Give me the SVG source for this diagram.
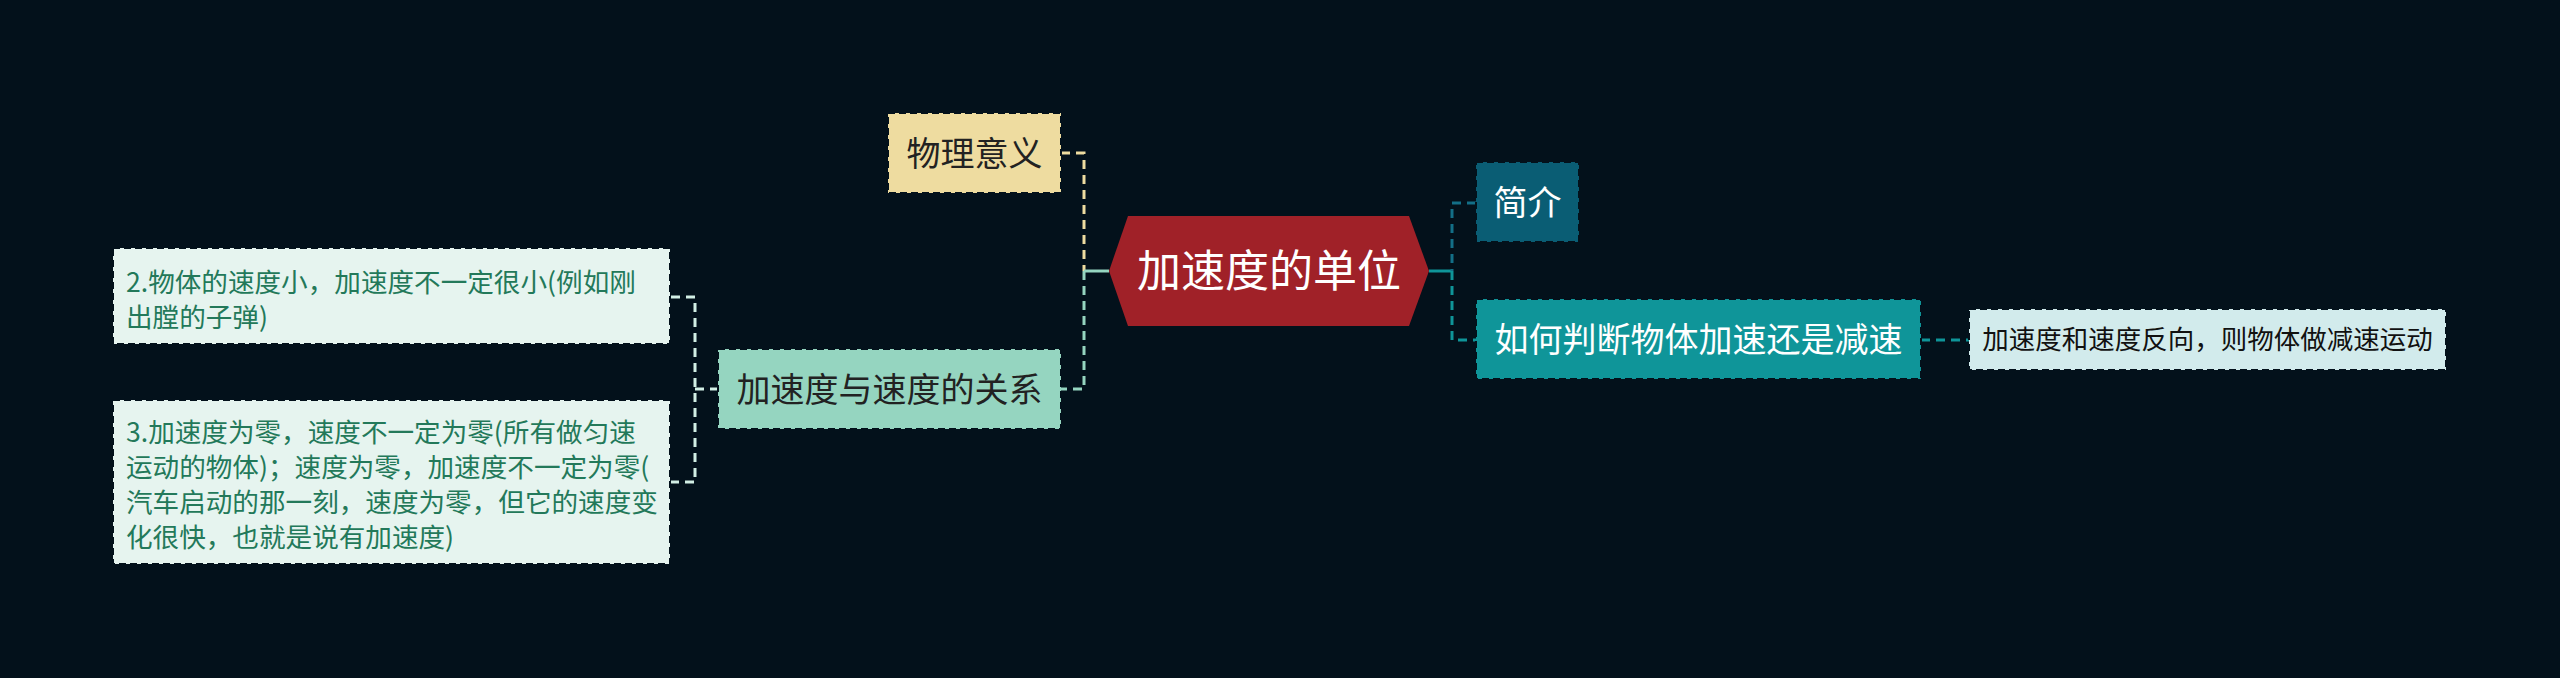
<svg xmlns="http://www.w3.org/2000/svg" width="2560" height="678" viewBox="0 0 2560 678">
<style>
text{font-family:"Noto Sans CJK SC","Noto Sans",sans-serif;}
.box{stroke:#03111b;stroke-width:2;stroke-dasharray:7 4;}
.t34{font-size:34px;text-anchor:middle;}
.leaf{font-size:26.6px;fill:#23795a;}
.con{fill:none;stroke-width:3;stroke-dasharray:9 6;}
</style>
<rect x="0" y="0" width="2560" height="678" fill="#03111b"/>
<g id="connectors">
<path class="con" d="M1061,153 H1084 V271" stroke="#eedca0"/>
<path class="con" d="M1084,271 V389 H1061" stroke="#95d5c0"/>
<path d="M1109,271 H1084" stroke="#95d5c0" stroke-width="3" fill="none"/>
<path d="M1429,271 H1452" stroke="#0f9599" stroke-width="3" fill="none"/>
<path class="con" d="M1476,203 H1452 V271" stroke="#136f87"/>
<path class="con" d="M1452,271 V340 H1476" stroke="#0f9599"/>
<path class="con" d="M1921,340 H1969" stroke="#0f9599" stroke-dasharray="10 8"/>
<path class="con" d="M671,297 H695 V482 H671 M695,389 H718" stroke="#d2efe5" stroke-width="2"/>
</g>
<g id="center">
<polygon points="1109,271 1128,216 1409,216 1429,271 1409,326 1128,326" fill="#a02128"/>
<text x="1269" y="287" font-size="44" text-anchor="middle" fill="#ffffff">加速度的单位</text>
</g>
<g id="n-wuliyiyi">
<rect class="box" x="888" y="113" width="173" height="80" fill="#eedca0"/>
<text class="t34" x="974.5" y="165.5" fill="#222222">物理意义</text>
</g>
<g id="n-guanxi">
<rect class="box" x="718" y="349" width="343" height="80" fill="#95d5c0"/>
<text class="t34" x="889.5" y="401.5" fill="#222222">加速度与速度的关系</text>
</g>
<g id="n-leaf2">
<rect class="box" x="113" y="248" width="557" height="96" fill="#e6f4ef"/>
<text class="leaf"><tspan x="126" y="292">2.物体的速度小，加速度不一定很小(例如刚</tspan><tspan x="126" y="327">出膛的子弹)</tspan></text>
</g>
<g id="n-leaf3">
<rect class="box" x="113" y="400" width="557" height="164" fill="#e6f4ef"/>
<text class="leaf"><tspan x="126" y="441.5">3.加速度为零，速度不一定为零(所有做匀速</tspan><tspan x="126" y="476.5">运动的物体)；速度为零，加速度不一定为零(</tspan><tspan x="126" y="511.5">汽车启动的那一刻，速度为零，但它的速度变</tspan><tspan x="126" y="546.5">化很快，也就是说有加速度)</tspan></text>
</g>
<g id="n-jianjie">
<rect class="box" x="1476" y="162" width="103" height="80" fill="#0a5d74"/>
<text class="t34" x="1527.5" y="214.5" fill="#ffffff">简介</text>
</g>
<g id="n-panduan">
<rect class="box" x="1476" y="299" width="445" height="80" fill="#0f9599"/>
<text class="t34" x="1698.5" y="351.5" fill="#ffffff">如何判断物体加速还是减速</text>
</g>
<g id="n-leaf-right">
<rect class="box" x="1969" y="309" width="477" height="61" fill="#d2ebec"/>
<text x="2207.5" y="349" font-size="26.5" text-anchor="middle" fill="#111111">加速度和速度反向，则物体做减速运动</text>
</g>
</svg>
